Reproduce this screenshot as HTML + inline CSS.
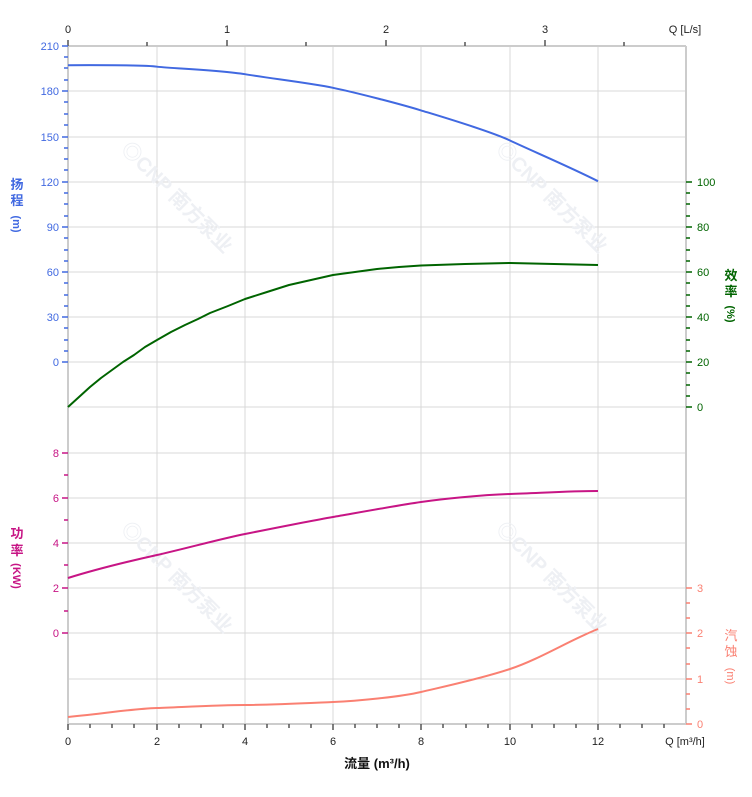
<!DOCTYPE html>
<html><head><meta charset="utf-8"><style>body{margin:0;background:#fff}svg{display:block}text{font-family:"Liberation Sans","Noto Sans CJK SC",sans-serif}</style></head><body>
<svg width="752" height="797" viewBox="0 0 752 797" xmlns="http://www.w3.org/2000/svg">
<g stroke="#d8d8d8" stroke-width="1">
<line x1="157" y1="46" x2="157" y2="724"/><line x1="245" y1="46" x2="245" y2="724"/><line x1="333" y1="46" x2="333" y2="724"/><line x1="421" y1="46" x2="421" y2="724"/><line x1="510" y1="46" x2="510" y2="724"/><line x1="598" y1="46" x2="598" y2="724"/>
<line x1="68" y1="91" x2="686" y2="91"/><line x1="68" y1="137" x2="686" y2="137"/><line x1="68" y1="182" x2="686" y2="182"/><line x1="68" y1="227" x2="686" y2="227"/><line x1="68" y1="272" x2="686" y2="272"/><line x1="68" y1="317" x2="686" y2="317"/><line x1="68" y1="362" x2="686" y2="362"/><line x1="68" y1="407" x2="686" y2="407"/><line x1="68" y1="453" x2="686" y2="453"/><line x1="68" y1="498" x2="686" y2="498"/><line x1="68" y1="543" x2="686" y2="543"/><line x1="68" y1="588" x2="686" y2="588"/><line x1="68" y1="633" x2="686" y2="633"/><line x1="68" y1="679" x2="686" y2="679"/>
</g>
<g stroke="#ccc" stroke-width="2"><line x1="68" y1="46" x2="686" y2="46"/><line x1="68" y1="724" x2="686" y2="724"/><line x1="68" y1="46" x2="68" y2="724"/><line x1="686" y1="46" x2="686" y2="724"/></g>
<g fill="#eef0f4" font-size="20" font-weight="bold">
<text transform="translate(120,150) rotate(45)">◎CNP 南方泵业</text>
<text transform="translate(495,150) rotate(45)">◎CNP 南方泵业</text>
<text transform="translate(120,530) rotate(45)">◎CNP 南方泵业</text>
<text transform="translate(495,530) rotate(45)">◎CNP 南方泵业</text>
</g>
<g stroke="#555" stroke-width="1.5">
<path d="M68 724v6M90 724v4M112 724v4M134 724v4M157 724v6M179 724v4M201 724v4M223 724v4M245 724v6M267 724v4M289 724v4M311 724v4M333 724v6M355 724v4M377 724v4M399 724v4M421 724v6M443 724v4M466 724v4M488 724v4M510 724v6M532 724v4M554 724v4M576 724v4M598 724v6M620 724v4M642 724v4M664 724v4"/>
<path d="M68 46v-6M147 46v-4M227 46v-6M306 46v-4M386 46v-6M465 46v-4M545 46v-6M624 46v-4"/>
</g>
<g font-size="11" fill="#222" text-anchor="middle">
<text x="68" y="745">0</text><text x="157" y="745">2</text><text x="245" y="745">4</text><text x="333" y="745">6</text><text x="421" y="745">8</text><text x="510" y="745">10</text><text x="598" y="745">12</text>
<text x="685" y="745">Q [m³/h]</text>
<text x="68" y="33">0</text><text x="227" y="33">1</text><text x="386" y="33">2</text><text x="545" y="33">3</text><text x="685" y="33">Q [L/s]</text>
</g>
<text x="377" y="768" font-size="13" font-weight="bold" text-anchor="middle" fill="#111">流量 (m³/h)</text>
<g stroke="#4169e1" stroke-width="1.5"><path d="M62 46h6M62 91h6M62 137h6M62 182h6M62 227h6M62 272h6M62 317h6M62 362h6M64 57h4M64 68h4M64 80h4M64 102h4M64 114h4M64 125h4M64 148h4M64 159h4M64 170h4M64 193h4M64 204h4M64 216h4M64 238h4M64 250h4M64 261h4M64 283h4M64 295h4M64 306h4M64 328h4M64 340h4M64 351h4"/></g>
<g font-size="11" fill="#4169e1" text-anchor="end">
<text x="59" y="50">210</text><text x="59" y="95">180</text><text x="59" y="141">150</text><text x="59" y="186">120</text><text x="59" y="231">90</text><text x="59" y="276">60</text><text x="59" y="321">30</text><text x="59" y="366">0</text></g>
<g font-size="13" font-weight="bold" fill="#4169e1" text-anchor="middle"><text x="17" y="189">扬</text><text x="17" y="205">程</text><text x="17" y="228" font-size="11" transform="rotate(90 17 224)">(m)</text></g>
<g stroke="#c71585" stroke-width="1.5"><path d="M62 453h6M62 498h6M62 543h6M62 588h6M62 633h6M64 475h4M64 520h4M64 565h4M64 611h4"/></g>
<g font-size="11" fill="#c71585" text-anchor="end"><text x="59" y="457">8</text><text x="59" y="502">6</text><text x="59" y="547">4</text><text x="59" y="592">2</text><text x="59" y="637">0</text></g>
<g font-size="13" font-weight="bold" fill="#c71585" text-anchor="middle"><text x="17" y="538">功</text><text x="17" y="555">率</text><text x="17" y="580" font-size="11" transform="rotate(90 17 576)">(KW)</text></g>
<g stroke="#006400" stroke-width="1.5"><path d="M686 182h6M686 227h6M686 272h6M686 317h6M686 362h6M686 407h6M686 193h4M686 204h4M686 216h4M686 238h4M686 250h4M686 261h4M686 283h4M686 295h4M686 306h4M686 328h4M686 340h4M686 351h4M686 373h4M686 385h4M686 396h4"/></g>
<g font-size="11" fill="#006400"><text x="697" y="186">100</text><text x="697" y="231">80</text><text x="697" y="276">60</text><text x="697" y="321">40</text><text x="697" y="366">20</text><text x="697" y="411">0</text></g>
<g font-size="13" font-weight="bold" fill="#006400" text-anchor="middle"><text x="731" y="280">效</text><text x="731" y="296">率</text><text x="731" y="318" font-size="11" transform="rotate(90 731 314)">(%)</text></g>
<g stroke="#fa8072" stroke-width="1.5"><path d="M686 588h6M686 633h6M686 679h6M686 724h6M686 603h4M686 618h4M686 648h4M686 664h4M686 694h4M686 709h4"/></g>
<g font-size="11" fill="#fa8072"><text x="697" y="592">3</text><text x="697" y="637">2</text><text x="697" y="683">1</text><text x="697" y="728">0</text></g>
<g font-size="13" fill="#fa8072" text-anchor="middle"><text x="731" y="640">汽</text><text x="731" y="656">蚀</text><text x="731" y="680" font-size="11" transform="rotate(90 731 676)">(m)</text></g>
<g fill="none" stroke-width="2" stroke-linejoin="round">
<path stroke="#4169e1" d="M68 65.2C120 65 150 65.5 157 66.7S220 70 245 74.2S310 83 333 87.8S400 104 421 110.4S490 131 510 140.5S570 167 598 181.2"/>
<polyline stroke="#006400" points="68,407 79,397 90,387 101,378 112,370 123,362 134,355 145,347 157,340 171,332 185,325 198,319 210,313 228,306 245,299 267,292 289,285 311,280 333,275 355,272 377,269 399,267 421,265.5 465,264 510,263 554,264 598,265"/>
<path stroke="#c71585" d="M68 578C100 568 130 561 157 555S220 539 245 534S310 521 333 517S400 505 421 502S480 495 510 494S570 491 598 491"/>
<path stroke="#fa8072" d="M68 717C110 713 130 709 157 708S220 705 245 705S310 703 333 702S400 697 421 692S480 679 510 669S570 640 598 629"/>
</g>
</svg>
</body></html>
